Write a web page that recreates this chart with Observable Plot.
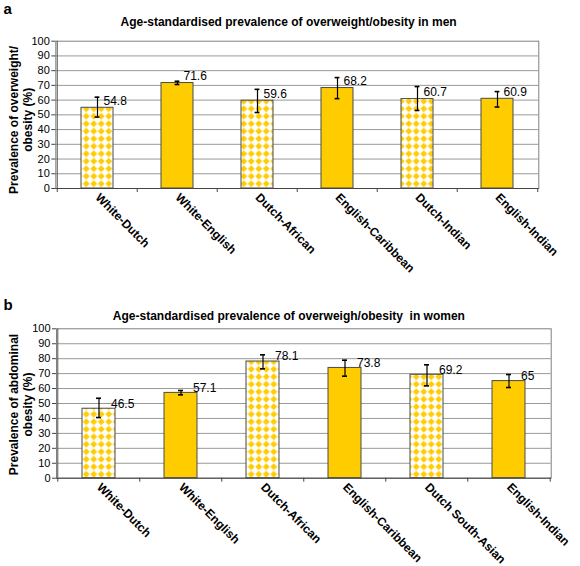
<!DOCTYPE html>
<html><head><meta charset="utf-8">
<script src="https://cdn.jsdelivr.net/npm/d3@7"></script>
<script src="https://cdn.jsdelivr.net/npm/@observablehq/plot@0.6"></script>
<style>
body{margin:0;background:#fff;}
#chart{width:580px;}
#chart svg{display:block;white-space:pre;}
</style></head><body><div id="chart"></div>
<script>
// ---- data ----
const menCategories = ["White-Dutch","White-English","Dutch-African","English-Caribbean","Dutch-Indian","English-Indian"];
const menValues = [54.8, 71.6, 59.6, 68.2, 60.7, 60.9];
const menLow    = [48.5, 70.6, 51.6, 61.0, 53.0, 55.3];
const menHigh   = [62.0, 72.8, 67.3, 75.3, 69.2, 65.8];

const womenCategories = ["White-Dutch","White-English","Dutch-African","English-Caribbean","Dutch South-Asian","English-Indian"];
const womenValues = [46.5, 57.1, 78.1, 73.8, 69.2, 65];
const womenLow    = [40.6, 55.8, 73.2, 68.3, 61.8, 60.7];
const womenHigh   = [53.5, 58.7, 82.6, 79.0, 75.9, 69.4];

const yTicks = [0,10,20,30,40,50,60,70,80,90,100];

const menTitle = "Age-standardised prevalence of overweight/obesity in men";
const womenTitle = "Age-standardised prevalence of overweigh/obesity  in women";
const menYTitle = "Prevalence of overweight/\nobesity (%)";
const womenYTitle = "Prevalence of abdominal\nobesity (%)";

const FONT = "'Liberation Sans', Arial, Helvetica, sans-serif";
const GOLD = "#FFCC00";

function panel(o) {
  const W = 580, H = 283;
  const data = o.cats.map((c, i) => ({cat: c, value: o.values[i], lo: o.low[i], hi: o.high[i]}));
  const isDutch = d => d.cat.includes("Dutch");
  const step = (W - o.ml - o.mr) / o.cats.length;
  const bw = step * 0.4;
  const capInset = (bw - 5) / 2;
  const svg = Plot.plot({
    width: W, height: H,
    marginLeft: o.ml, marginRight: o.mr, marginTop: o.mt, marginBottom: o.mb,
    style: {fontFamily: FONT, fontSize: "11px", color: "#000", background: "#fff", overflow: "visible"},
    x: {domain: o.cats, paddingInner: 0.6, paddingOuter: 0.3, label: null},
    y: {domain: [0, 100], label: null},
    marks: [
      Plot.ruleY(yTicks.slice(1, -1), {stroke: "#999", strokeWidth: 1}),
      Plot.frame({stroke: "#808080"}),
      Plot.barY(data, {filter: d => !isDutch(d), x: "cat", y: "value", fill: GOLD, stroke: "#4a4a4a", strokeWidth: 1}),
      Plot.barY(data, {filter: isDutch, x: "cat", y: "value", fill: `url(#${o.pid})`, stroke: "#4a4a4a", strokeWidth: 1}),
      Plot.ruleX(data, {x: "cat", y1: "lo", y2: "hi", stroke: "#000", strokeWidth: 1.2}),
      Plot.tickY(data, {x: "cat", y: "lo", insetLeft: capInset, insetRight: capInset, stroke: "#000", strokeWidth: 1.6}),
      Plot.tickY(data, {x: "cat", y: "hi", insetLeft: capInset, insetRight: capInset, stroke: "#000", strokeWidth: 1.6}),
      Plot.text(data, {x: "cat", y: "value", text: d => String(d.value), textAnchor: "start", dx: o.ldx, dy: o.ldy, fontSize: 12, fill: "#000"}),
      Plot.ruleY([0], {stroke: "#444"}),
      Plot.ruleX([o.cats[0]], {y1: 0, y2: 100, dx: -step / 2, stroke: "#555"}),
      Plot.ruleX(o.cats, {y1: 0, y2: 0, insetBottom: -4, dx: -step / 2, stroke: "#444"}),
      Plot.ruleX([o.cats[o.cats.length - 1]], {y1: 0, y2: 0, insetBottom: -4, dx: step / 2, stroke: "#444"}),
      Plot.axisY({ticks: yTicks, tickSize: 4, tickPadding: 2, fontSize: 11, label: null, stroke: "#444"}),
      Plot.axisX({tickSize: 0, tickRotate: 45, tickPadding: 7, fontWeight: "bold", fontSize: 12, label: null}),
      Plot.text([o.title], {text: d => d, frameAnchor: "top", dx: o.tdx, dy: o.tdy, fontWeight: "bold", fontSize: 12, lineAnchor: "middle"}),
      Plot.text([o.letter], {text: d => d, frameAnchor: "top-left", textAnchor: "start", dx: 3 - o.ml, dy: o.ady, fontWeight: "bold", fontSize: 15, lineAnchor: "middle"}),
      Plot.text([o.yTitle], {text: d => d, frameAnchor: "left", rotate: -90, textAnchor: "middle", lineAnchor: "middle", lineHeight: 1.17, dx: 20 - o.ml, dy: o.ydy, fontWeight: "bold", fontSize: 12})
    ]
  });
  const defs = d3.select(svg).insert("defs", ":first-child");
  defs.html(`<pattern id="${o.pid}" patternUnits="userSpaceOnUse" width="7.5" height="7.5">
      <rect width="7.5" height="7.5" fill="#fff"/>
      <path d="M3.75,0.7 L6.8,3.75 L3.75,6.8 L0.7,3.75Z" fill="${GOLD}" stroke="${GOLD}" stroke-width="0.9" stroke-linejoin="round"/>
    </pattern>`);
  return svg;
}

const root = document.getElementById("chart");
root.append(panel({
  cats: menCategories, values: menValues, low: menLow, high: menHigh,
  title: menTitle, letter: "a", yTitle: menYTitle, pid: "diamA",
  ml: 55.3, mr: 41.7, mt: 40.7, mb: 95,
  ldx: 6, ldy: -7, tdx: -8.7, tdy: -19.3, ady: -32.5, ydy: 5
}));
root.append(panel({
  cats: womenCategories, values: womenValues, low: womenLow, high: womenHigh,
  title: womenTitle, letter: "b", yTitle: womenYTitle, pid: "diamB",
  ml: 56, mr: 29.3, mt: 45.3, mb: 88.3,
  ldx: 12, ldy: -5, tdx: -15, tdy: -12.3, ady: -24, ydy: 1
}));
</script></body></html>
